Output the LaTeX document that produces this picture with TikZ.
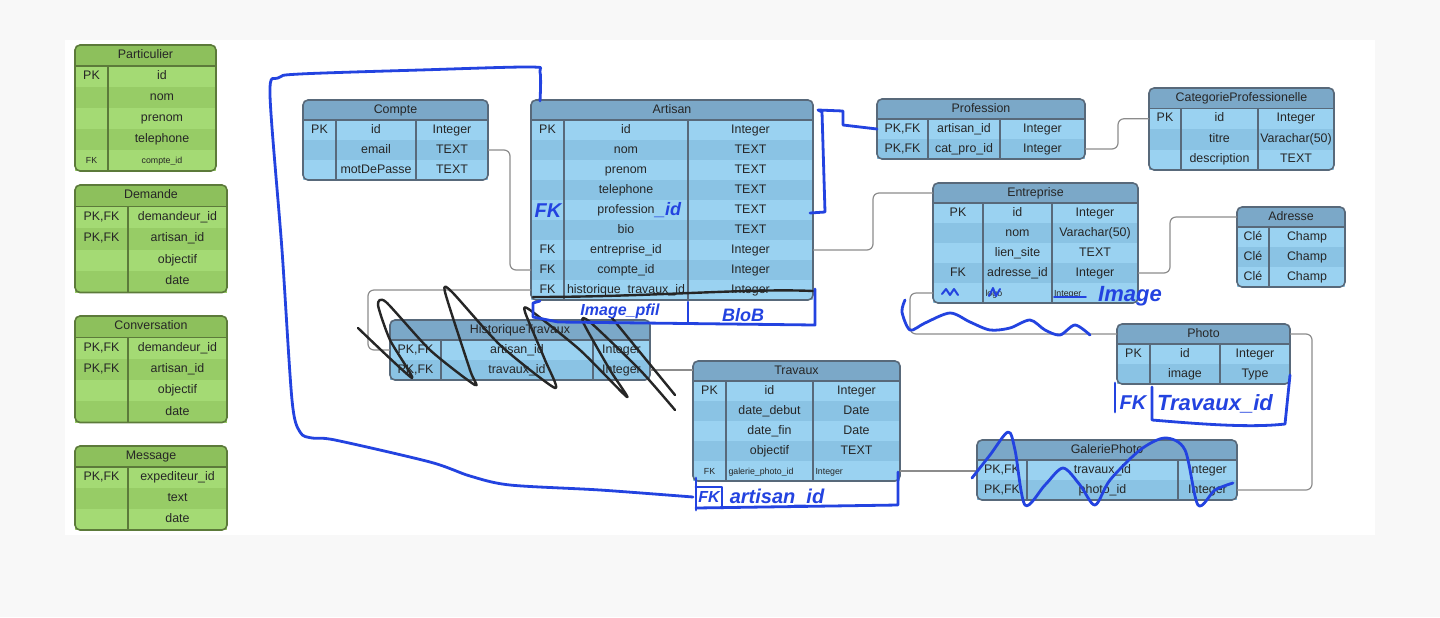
\documentclass[tikz,border=0pt]{standalone}
\usepackage{fontspec}
\setmainfont{Liberation Sans}
\newfontfamily\handfont{Liberation Sans}
\definecolor{blueH}{HTML}{7BA8C8}
\definecolor{blueA}{HTML}{9AD2F1}
\definecolor{blueB}{HTML}{8AC3E4}
\definecolor{blueL}{HTML}{58697A}
\definecolor{greenH}{HTML}{8DC05C}
\definecolor{greenA}{HTML}{A4DA74}
\definecolor{greenB}{HTML}{97CC66}
\definecolor{greenL}{HTML}{5C7A3A}
\definecolor{handblue}{HTML}{2343E0}
\definecolor{wire}{HTML}{8C8C8C}
\definecolor{bgout}{HTML}{F8F8F8}
\tikzset{
  cell/.style={inner sep=0pt, text=black!85, text height=4.5pt, text depth=1.3pt, font=\fontsize{6.2}{7}\selectfont},
  wireline/.style={draw=wire, line width=0.6pt, rounded corners=3},
  hand/.style={draw=handblue, line width=1.4pt, line cap=round, line join=round},
  scrawl/.style={draw=black!85, line width=1.2pt, line cap=round, line join=round},
  handtext/.style={text=handblue, inner sep=0pt, font=\handfont\itshape\bfseries\fontsize{#1}{#1}\selectfont},
}
\newcommand{\smallcell}{\fontsize{4.4}{5}\selectfont}
% #1 name and title, #2 colour set, #3-#6 column edges, #7 top, #8 row height, #9 rows
\newcommand{\ertable}[9]{%
  \fill[fill=#2H, rounded corners=2.5] (#3,#7) rectangle (#6,{#7+#8+4});
  \foreach \k/\f/\t [count=\i] in {#9} {
    \pgfmathsetmacro\ya{#7+#8*\i}
    \ifodd\i\relax \def\rowfill{#2A}\else \def\rowfill{#2B}\fi
    \fill[fill=\rowfill] (#3,\ya) rectangle (#6,{\ya+#8});
    \node[cell] at ({(#3+#4)/2},{\ya+#8/2}) {\k};
    \node[cell] at ({(#4+#5)/2},{\ya+#8/2}) {\f};
    \node[cell] at ({(#5+#6)/2},{\ya+#8/2}) {\t};
    \coordinate (#1-\i-w) at (#3,{\ya+#8/2});
    \coordinate (#1-\i-e) at (#6,{\ya+#8/2});
    \xdef\nrows{\i}
  }
  \pgfmathsetmacro\yend{#7+#8*(\nrows+1)}
  \pgfmathtruncatemacro\hastype{#5<#6}
  \draw[draw=#2L, line width=0.8pt, rounded corners=2.5] (#3,#7) rectangle (#6,\yend);
  \draw[draw=#2L, line width=0.8pt] (#3,{#7+#8}) -- (#6,{#7+#8});
  \draw[draw=#2L, line width=0.8pt] (#4,{#7+#8}) -- (#4,\yend);
  \ifnum\hastype=1 \draw[draw=#2L, line width=0.8pt] (#5,{#7+#8}) -- (#5,\yend);\fi
  \node[cell] (#1) at ({(#3+#6)/2},{#7+#8/2}) {#1};
  \coordinate (#1-hw) at (#3,{#7+#8/2});
  \coordinate (#1-he) at (#6,{#7+#8/2});
}
\begin{document}
\begin{tikzpicture}[x=0.5pt, y=-0.5pt]
  \useasboundingbox (0,0) rectangle (1440,617);
  \fill[bgout] (0,0) rectangle (1440,617);
  \fill[white] (65,40) rectangle (1375,535);

  % green tables
  \ertable{Particulier}{green}{75}{108}{216}{216}{45}{21}{PK/id/{}, {}/nom/{}, {}/prenom/{}, {}/telephone/{}, {\smallcell FK}/{\smallcell compte\_id}/{}}
  \ertable{Demande}{green}{75}{128}{227}{227}{185}{21.5}{{PK,FK}/demandeur\_id/{}, {PK,FK}/artisan\_id/{}, {}/objectif/{}, {}/date/{}}
  \ertable{Conversation}{green}{75}{128}{227}{227}{316}{21.3}{{PK,FK}/demandeur\_id/{}, {PK,FK}/artisan\_id/{}, {}/objectif/{}, {}/date/{}}
  \ertable{Message}{green}{75}{128}{227}{227}{446}{21}{{PK,FK}/expediteur\_id/{}, {}/text/{}, {}/date/{}}

  % blue tables
  \ertable{Compte}{blue}{303}{336}{416}{488}{100}{20}{PK/id/Integer, {}/email/TEXT, {}/motDePasse/TEXT}
  \ertable{Artisan}{blue}{531}{564}{688}{813}{100}{20}{PK/id/Integer, {}/nom/TEXT, {}/prenom/TEXT, {}/telephone/TEXT, {}/profession/TEXT, {}/bio/TEXT, FK/entreprise\_id/Integer, FK/compte\_id/Integer, FK/historique\_travaux\_id/Integer}
  \ertable{Profession}{blue}{877}{928}{1000}{1085}{99}{20}{{PK,FK}/artisan\_id/Integer, {PK,FK}/cat\_pro\_id/Integer}
  \ertable{CategorieProfessionelle}{blue}{1149}{1181}{1258}{1334}{88}{20.5}{PK/id/Integer, {}/titre/Varachar(50), {}/description/TEXT}
  \ertable{Entreprise}{blue}{933}{983}{1052}{1138}{183}{20}{PK/id/Integer, {}/nom/Varachar(50), {}/lien\_site/TEXT, FK/adresse\_id/Integer, {}/{\smallcell\makebox[32pt][l]{logo}}/{\smallcell\makebox[41pt][l]{Integer}}}
  \ertable{Adresse}{blue}{1237}{1269}{1345}{1345}{207}{20}{Clé/Champ/{}, Clé/Champ/{}, Clé/Champ/{}}
  \ertable{HistoriqueTravaux}{blue}{390}{441}{593}{650}{320}{20}{{PK,FK}/artisan\_id/Integer, {PK,FK}/travaux\_id/Integer}
  \ertable{Travaux}{blue}{693}{726}{813}{900}{361}{20}{PK/id/Integer, {}/date\_debut/Date, {}/date\_fin/Date, {}/objectif/TEXT, {\smallcell FK}/{\smallcell\makebox[41pt][l]{galerie\_photo\_id}}/{\smallcell\makebox[41pt][l]{Integer}}}
  \ertable{Photo}{blue}{1117}{1150}{1220}{1290}{324}{20}{PK/id/Integer, {}/image/Type}
  \ertable{GaleriePhoto}{blue}{977}{1027}{1178}{1237}{440}{20}{{PK,FK}/travaux\_id/Integer, {PK,FK}/photo\_id/Integer}

  % connectors
  \draw[wireline] (Compte-2-e) -- ++(22,0) |- (Artisan-8-w);
  \draw[wireline] (Artisan-7-e) -- ++(60,0) |- (Entreprise-hw);
  \draw[wireline] (Profession-2-e) -- ++(33,0) |- (CategorieProfessionelle-1-w);
  \draw[wireline] (Entreprise-4-e) -- ++(32,0) |- (Adresse-hw);
  \draw[wireline] (Entreprise-5-w) -- ++(-23,0) |- (Photo-hw);
  \draw[wireline] (Photo-he) -- ++(22,0) |- (GaleriePhoto-2-e);
  \draw[wireline] (Travaux-5-e) -- (Travaux-5-e -| GaleriePhoto-1-w);
  \draw[wireline] (Artisan-9-w) -- ++(-163,0) |- (HistoriqueTravaux-1-w);
  \draw[wireline] (HistoriqueTravaux-2-e) -- (HistoriqueTravaux-2-e -| Travaux-hw);

  % black scribbles
  \draw[scrawl] (533,297) .. controls (650,297) and (750,288) .. (813,291);
  \draw[scrawl] plot[smooth, tension=0.4] coordinates {(358,328) (412,378) (390,340) (378,305) (386,302) (430,350) (475,385) (470,370) (445,292) (452,292) (500,345) (555,388) (545,360) (525,312) (530,310) (580,350) (627,397) (610,370) (583,322) (590,322) (640,370) (675,410)};
  \draw[scrawl] (612,318) -- (675,395);

  % blue annotations
  \draw[hand] plot[smooth, tension=0.5] coordinates {(540,101) (540,72) (530,67) (420,70) (300,74) (278,78) (270,95) (282,250) (292,400) (300,432) (312,438) (335,440) (430,462) (470,476) (510,485) (600,490) (693,497)};
  \draw[hand] (810,213) -- (825,212) -- (822,112) -- (818,110) -- (843,111) -- (843,125) -- (877,129);
  \node[handtext=10] at (548,211) {FK};
  \node[handtext=9] at (668,210) {\_id};
  \draw[hand] (540,301) -- (533,303) -- (533,317) -- (558,322) -- (815,325) -- (815,289);
  \draw[hand] (688,302) -- (688,323);
  \node[handtext=8] at (620,311) {Image\_pfil};
  \node[handtext=9] at (743,315) {BloB};
  \draw[hand, line width=1pt] (942,294) -- (946,289) -- (950,295) -- (954,289) -- (958,295);
  \draw[hand, line width=1pt] (989,296) -- (993,288) -- (996,296) -- (1000,289);
  \draw[hand, line width=0.8pt] (1054,297) -- (1086,297);
  \node[handtext=11] at (1130,296) {Image};
  \draw[hand] plot[smooth, tension=0.5] coordinates {(905,300) (902,312) (910,330) (925,323) (950,313) (970,322) (990,330) (1010,328) (1030,320) (1045,330) (1060,335) (1075,325) (1090,335)};
  \draw[hand] (696,478) -- (696,510);
  \draw[hand] (696,487) -- (722,487) -- (722,508);
  \draw[hand] (696,508) -- (898,505) -- (898,472);
  \node[handtext=8] at (709,497) {FK};
  \node[handtext=10] at (777,497) {artisan\_id};
  \draw[hand] (1115,383) -- (1115,412);
  \draw[hand] (1152,387) -- (1152,420) .. controls (1200,424) and (1250,428) .. (1285,424) -- (1290,375);
  \node[handtext=10] at (1133,403) {FK};
  \node[handtext=11] at (1215,404) {Travaux\_id};
  \draw[hand] plot[smooth, tension=0.5] coordinates {(972,478) (990,455) (1008,432) (1015,450) (1025,505) (1045,485) (1063,468) (1080,485) (1095,505) (1110,480) (1140,450) (1165,438) (1185,450) (1198,505) (1215,490) (1233,483)};
\end{tikzpicture}
\end{document}
